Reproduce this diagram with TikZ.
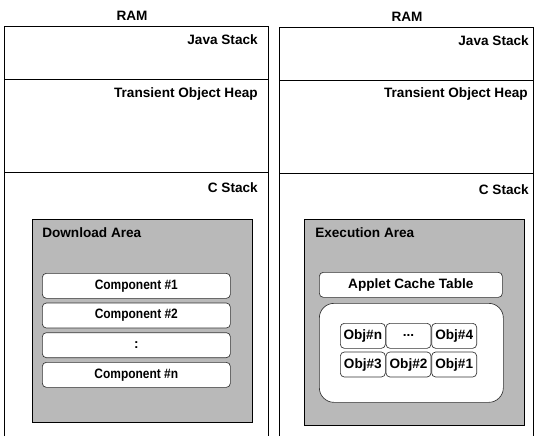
\documentclass[tikz,border=0pt]{standalone}
\usepackage{fontspec}
\setmainfont{Liberation Sans}
\usepackage{graphicx}
\usetikzlibrary{positioning}

\newcommand{\squeezed}[1]{\scalebox{0.88}[1]{#1}}

\begin{document}
\begin{tikzpicture}[
    x=0.75pt, y=-0.75pt,
    every node/.style={font=\fontsize{10.2}{12}\selectfont\bfseries, inner sep=0pt},
    panel/.style={draw=black, line width=0.7pt},
    area/.style={draw=black, line width=0.9pt, fill=cArea,
        anchor=north west, minimum width=165pt},
    cell/.style={draw=black!80, line width=0.5pt, rounded corners=3pt,
        fill=white, align=center, minimum height=18.75pt},
    comp/.style={cell, minimum width=141pt},
    obj/.style={cell, minimum width=33.75pt},
    node distance=3pt
]
\definecolor{cArea}{RGB}{185,185,185}

\useasboundingbox (0,0) rectangle (534,436);

% Left RAM
\node (ramleft) at (132,16) {RAM};
\draw[panel] (4,436) -- (4,26) -- (268,26) -- (268,436);
\draw[panel] (4,79) -- (268,79);
\draw[panel] (4,172) -- (268,172);
\node[anchor=east] (javaleft) at (258,40) {Java Stack};
\node[anchor=east] (heapleft) at (258,94) {Transient Object Heap};
\node[anchor=east] (cstackleft) at (258,188) {C Stack};

\node[area, minimum height=152.25pt] (download) at (32,219) {};
\node[anchor=west] (downloadtitle) at (42,233) {Download Area};
\node[comp, anchor=north west] (comp1) at (42,273) {\squeezed{Component \#1}};
\node[comp, below=of comp1] (comp2) {\squeezed{Component \#2}};
\node[comp, below=of comp2] (compdots) {:};
\node[comp, below=of compdots] (compn) {\squeezed{Component \#n}};

% Right RAM
\node (ramright) at (407,17) {RAM};
\draw[panel] (279,436) -- (279,27) -- (533,27) -- (533,436);
\draw[panel] (279,80) -- (533,80);
\draw[panel] (279,173) -- (533,173);
\node[anchor=east] (javaright) at (529,41) {Java Stack};
\node[anchor=east] (heapright) at (528,94) {Transient Object Heap};
\node[anchor=east] (cstackright) at (529,190) {C Stack};

\node[area, minimum height=154.5pt] (execution) at (304,219) {};
\node[anchor=west] (executiontitle) at (315,233) {Execution Area};
\node[cell, minimum width=137.25pt, anchor=north west] (cache) at (319,272)
    {Applet Cache Table};
\node[cell, rounded corners=11pt, minimum width=138pt, minimum height=74.25pt,
      anchor=north west] (objheap) at (319,303) {};

% Objects
\node[obj, anchor=north west] (objn) at (340,323) {Obj\#n};
\node[obj, right=0pt of objn] (objdots) {...};
\node[obj, right=0pt of objdots] (obj4) {Obj\#4};
\node[obj, below=2.25pt of objn] (obj3) {Obj\#3};
\node[obj, right=0pt of obj3] (obj2) {Obj\#2};
\node[obj, right=0pt of obj2] (obj1) {Obj\#1};

\end{tikzpicture}
\end{document}
